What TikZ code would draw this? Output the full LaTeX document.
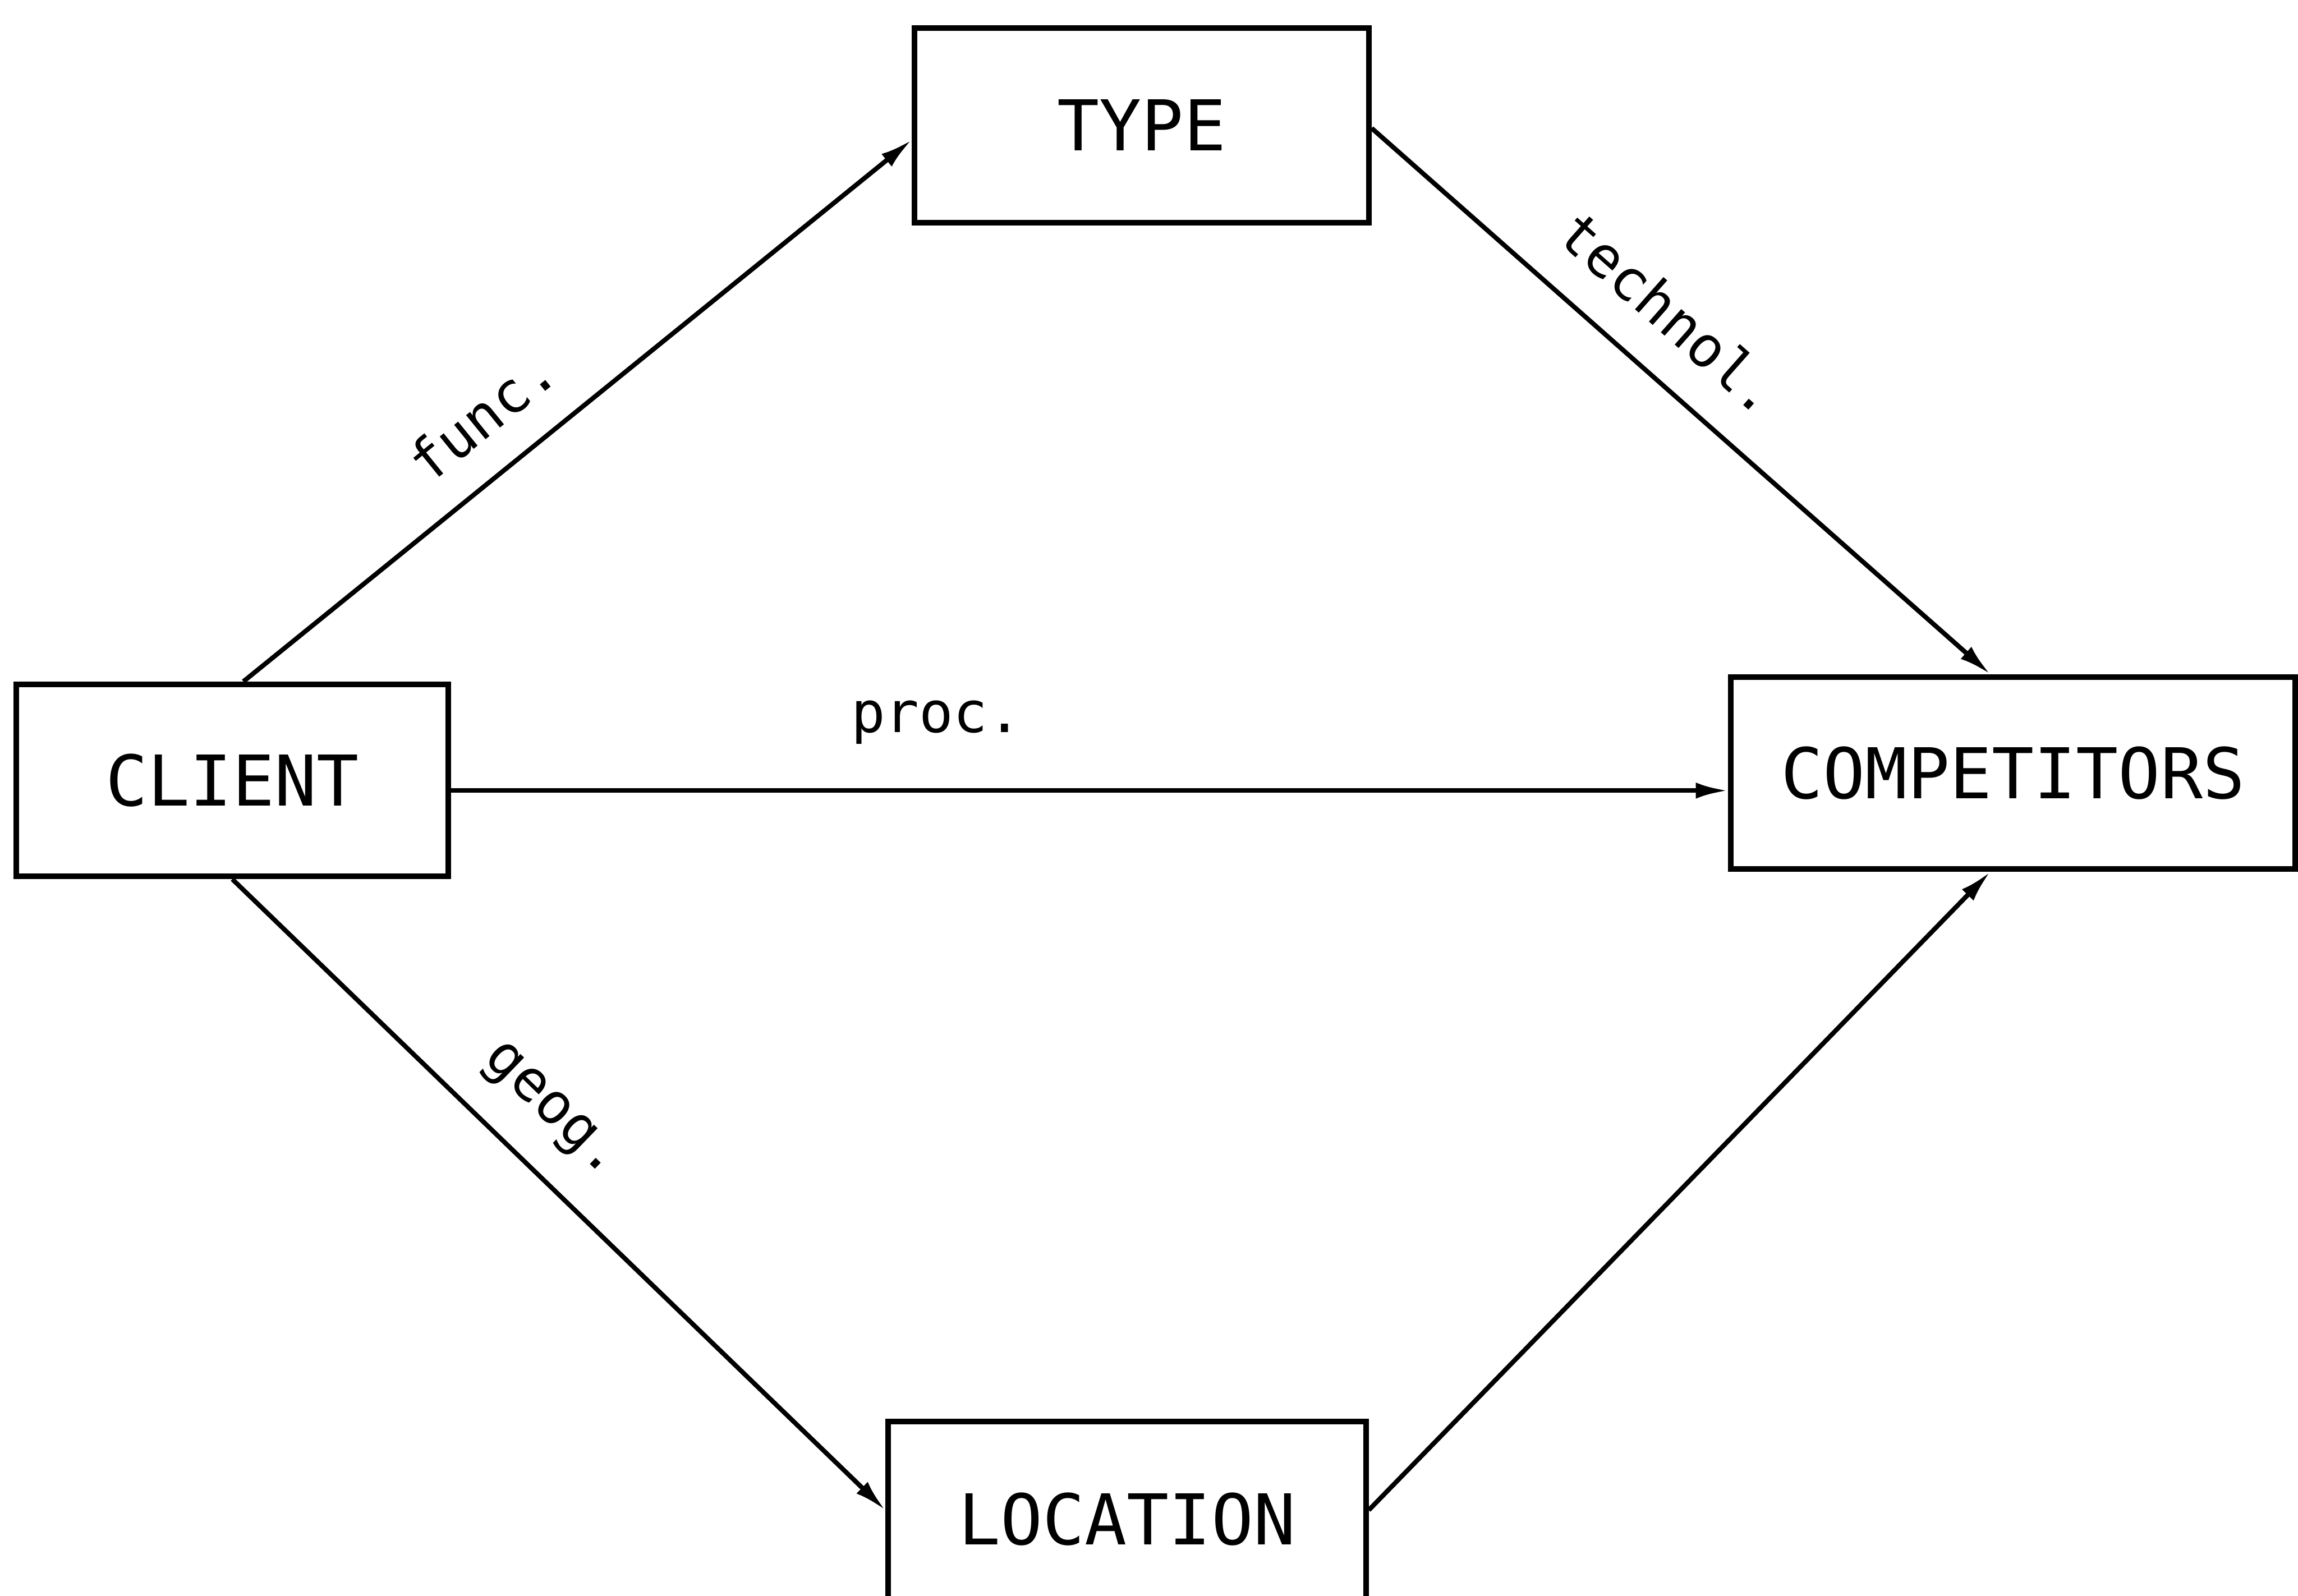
\documentclass[tikz,border=0pt]{standalone}
\usepackage{fontspec}
\newfontfamily\stencilfont{DejaVu Sans Mono}
\usetikzlibrary{arrows.meta}

\begin{document}
\begin{tikzpicture}[
    blockbox/.style={draw, line width=1.1pt, inner sep=0pt,
        font=\stencilfont\fontsize{13.6}{16}\selectfont},
    flowarrow/.style={line width=0.9pt, -{Latex[length=2.2mm,width=1.1mm]}},
    flowlabel/.style={sloped, inner sep=0pt,
        font=\stencilfont\fontsize{11}{13}\selectfont},
]
    \useasboundingbox (0,0) rectangle (15.68,-10.89);

    \node[blockbox, minimum width=3.10cm, minimum height=1.33cm] (type) at (7.79, -0.855) {TYPE};
    \node[blockbox, minimum width=2.95cm, minimum height=1.31cm] (client) at (1.585, -5.325) {CLIENT};
    \node[blockbox, minimum width=3.85cm, minimum height=1.31cm] (comp) at (13.735, -5.275) {COMPETITORS};
    \node[blockbox, minimum width=3.26cm, minimum height=1.33cm] (loc) at (7.69, -10.365) {LOCATION};

    % ---- upper route
    \draw[flowarrow] ([xshift=1.57cm]client.north west)
        -- node[flowlabel, pos=0.41, above=2.2mm] {func.} ([yshift=-1mm]type.west);
    \draw[flowarrow] ([yshift=-0.2mm]type.east)
        -- node[flowlabel, pos=0.42, above=2.4mm] {technol.} ([xshift=-1.55mm]comp.north);

    % ---- direct route
    \draw[flowarrow] ([yshift=-0.7mm]client.east) coordinate (procfrom)
        -- node[flowlabel, pos=0.38, above=3mm] {proc.} (procfrom -| comp.west);

    % ---- lower route
    \draw[flowarrow] (client.south)
        -- node[flowlabel, pos=0.43, above=2mm] {geog.} ([yshift=0.6mm]loc.west);
    \draw[flowarrow] ([yshift=0.6mm]loc.east) -- ([xshift=-1.55mm]comp.south);
\end{tikzpicture}
\end{document}
